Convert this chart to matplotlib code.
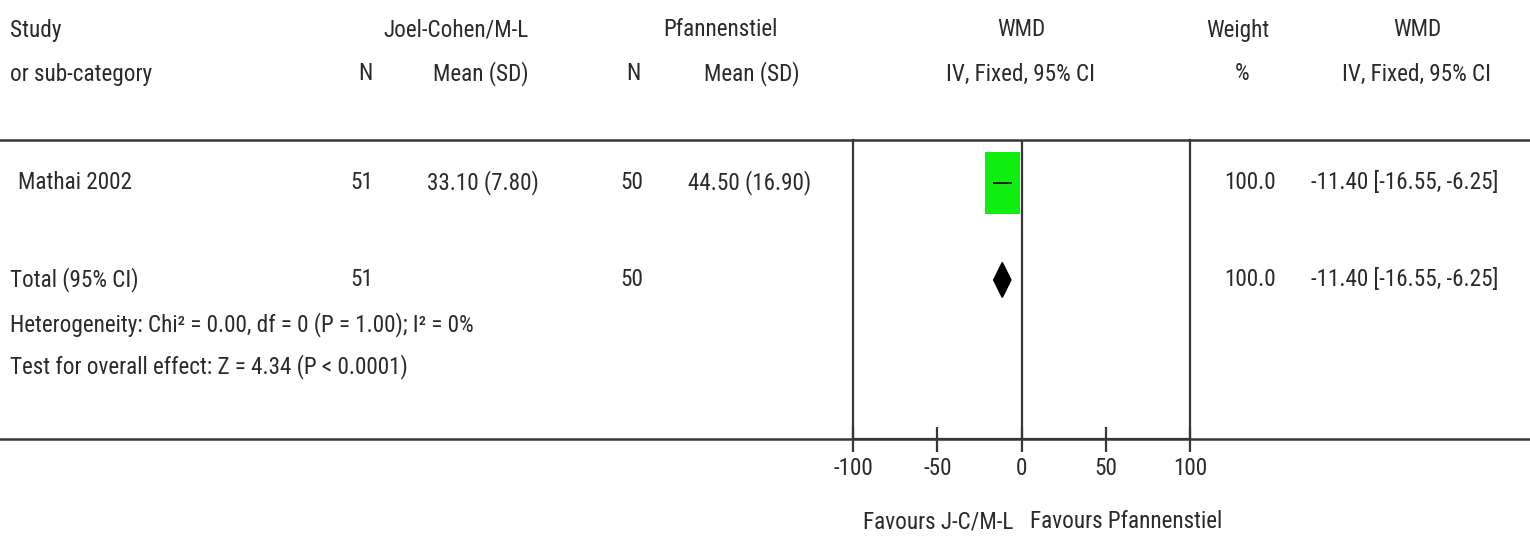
import matplotlib.pyplot as plt
from matplotlib import font_manager as fm
from matplotlib.lines import Line2D
from matplotlib.patches import Rectangle, Polygon
from matplotlib import transforms

# data
studies = ['Mathai 2002']
n_jc = [51]
mean_jc = [33.10]
sd_jc = [7.80]
n_pf = [50]
mean_pf = [44.50]
sd_pf = [16.90]
wmd = [-11.40]
ci_lo = [-16.55]
ci_hi = [-6.25]
weight = [100.0]

total_n_jc = 51
total_n_pf = 50
total_wmd = -11.40
total_lo = -16.55
total_hi = -6.25
total_weight = 100.0
het_text = 'Heterogeneity: Chi² = 0.00, df = 0 (P = 1.00); I² = 0%'
test_text = 'Test for overall effect: Z = 4.34 (P < 0.0001)'

xticks = [-100, -50, 0, 50, 100]
fav_left = 'Favours J-C/M-L'
fav_right = 'Favours Pfannenstiel'

# pick a narrow font if one is installed
fonts = {(f.name, f.stretch) for f in fm.fontManager.ttflist}
names = {n for n, _ in fonts}
stretch = 'normal'
if 'Liberation Sans Narrow' in names:
    family = 'Liberation Sans Narrow'
elif 'Roboto Condensed' in names:
    family = 'Roboto Condensed'
elif any(n == 'DejaVu Sans' and s in ('condensed', 'semi-condensed') for n, s in fonts):
    family = 'DejaVu Sans'
    stretch = 'condensed'
else:
    family = 'Liberation Sans'
plt.rcParams['font.family'] = [family, 'DejaVu Sans']
plt.rcParams['font.stretch'] = stretch

TC = '#2a2a2a'
LC = '#363636'

W, H = 1530, 544
fig = plt.figure(figsize=(W / 100, H / 100), dpi=100)


def fx(px):
    return px / W


def fy(py):
    return 1 - py / H


# size the font so the heterogeneity line is as wide as in the reference
probe = fig.text(0, 0, het_text, fontsize=20)
wpx = probe.get_window_extent(fig.canvas.get_renderer()).width
probe.remove()
FS = 20 * 466 / wpx

# forest panel: x -100..100 spans px 853..1190, rows between lines at 140 and 439
ax_h = 439 - 140
ax = fig.add_axes([fx(853), fy(439), fx(1190 - 853), ax_h / H])
ax.set_xlim(-100, 100)
ax.set_ylim(3.64, 0.557)
ax.spines['top'].set_visible(False)
for s in ['left', 'right', 'bottom']:
    ax.spines[s].set_color(LC)
    ax.spines[s].set_linewidth(1.6)
ax.axvline(0, color=LC, lw=1.6)
ax.set_yticks([])
ax.set_xticks(xticks)
ax.set_xticklabels([str(t) for t in xticks], fontsize=FS, color=TC)
ax.tick_params(axis='x', length=0, pad=13)
# ticks crossing the axis line
ax.vlines(xticks, -13 / ax_h, 12 / ax_h, transform=ax.get_xaxis_transform(),
          colors=LC, lw=1.6, clip_on=False)
ax.patch.set_alpha(0)

# study rows
for i in range(len(studies)):
    row = i + 1
    half = 10.4
    ax.add_patch(Rectangle((wmd[i] - half, row - 0.32), 2 * half, 0.64,
                           facecolor='#10ee10', edgecolor='none', zorder=2))
    ax.plot([ci_lo[i], ci_hi[i]], [row, row], color='#1a1a1a', lw=1.4, zorder=3)

# total diamond
trow = len(studies) + 1
ax.add_patch(Polygon([(total_lo, trow), (total_wmd, trow - 0.18),
                      (total_hi, trow), (total_wmd, trow + 0.18)],
                     closed=True, facecolor='black', edgecolor='black', zorder=3))

# full-width lines
for py in [140, 439]:
    fig.add_artist(Line2D([0, 1], [fy(py), fy(py)], transform=fig.transFigure,
                          color=LC, lw=1.8))

# header
hdr1 = 30
hdr2 = 74
kw = dict(fontsize=FS, color=TC, va='center')
fig.text(fx(10), fy(hdr1), 'Study', ha='left', **kw)
fig.text(fx(10), fy(hdr2), 'or sub-category', ha='left', **kw)
fig.text(fx(456), fy(hdr1), 'Joel-Cohen/M-L', ha='center', **kw)
fig.text(fx(365), fy(hdr2), 'N', ha='center', **kw)
fig.text(fx(481), fy(hdr2), 'Mean (SD)', ha='center', **kw)
fig.text(fx(720), fy(hdr1), 'Pfannenstiel', ha='center', **kw)
fig.text(fx(633), fy(hdr2), 'N', ha='center', **kw)
fig.text(fx(752), fy(hdr2), 'Mean (SD)', ha='center', **kw)
fig.text(fx(1021), fy(hdr1), 'WMD', ha='center', **kw)
fig.text(fx(1021), fy(hdr2), 'IV, Fixed, 95% CI', ha='center', **kw)
fig.text(fx(1238), fy(hdr1), 'Weight', ha='center', **kw)
fig.text(fx(1242), fy(hdr2), '%', ha='center', **kw)
fig.text(fx(1417), fy(hdr1), 'WMD', ha='center', **kw)
fig.text(fx(1417), fy(hdr2), 'IV, Fixed, 95% CI', ha='center', **kw)

# rows aligned with the forest axes rows
tr = transforms.blended_transform_factory(fig.transFigure, ax.transData)
rkw = dict(fontsize=FS, color=TC, va='center', transform=tr)
for i, name in enumerate(studies):
    row = i + 1
    fig.text(fx(18), row, name, ha='left', **rkw)
    fig.text(fx(362), row, f'{n_jc[i]}', ha='center', **rkw)
    fig.text(fx(483), row, f'{mean_jc[i]:.2f} ({sd_jc[i]:.2f})', ha='center', **rkw)
    fig.text(fx(632), row, f'{n_pf[i]}', ha='center', **rkw)
    fig.text(fx(750), row, f'{mean_pf[i]:.2f} ({sd_pf[i]:.2f})', ha='center', **rkw)
    fig.text(fx(1276), row, f'{weight[i]:.1f}', ha='right', **rkw)
    fig.text(fx(1498), row, f'{wmd[i]:.2f} [{ci_lo[i]:.2f}, {ci_hi[i]:.2f}]', ha='right', **rkw)

fig.text(fx(10), trow, 'Total (95% CI)', ha='left', **rkw)
fig.text(fx(362), trow, f'{total_n_jc}', ha='center', **rkw)
fig.text(fx(632), trow, f'{total_n_pf}', ha='center', **rkw)
fig.text(fx(1276), trow, f'{total_weight:.1f}', ha='right', **rkw)
fig.text(fx(1498), trow, f'{total_wmd:.2f} [{total_lo:.2f}, {total_hi:.2f}]', ha='right', **rkw)
fig.text(fx(10), trow + 0.46, het_text, ha='left', **rkw)
fig.text(fx(10), trow + 0.89, test_text, ha='left', **rkw)

# favours labels
fig.text(fx(1013), fy(522), fav_left, ha='right', **kw)
fig.text(fx(1030), fy(522), fav_right, ha='left', **kw)

fig.savefig('out.png', dpi=100, facecolor='white')
